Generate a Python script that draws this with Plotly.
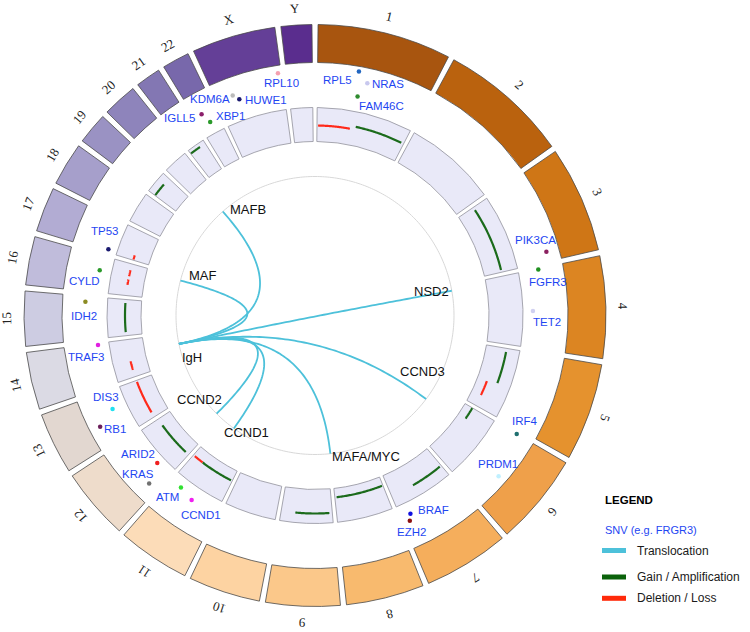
import numpy as np
import plotly.graph_objects as go

# ---------------- data ----------------
CHROMS = [str(i) for i in range(1, 23)] + ["X", "Y"]
CHROM_LEN_MB = [248.96, 242.19, 198.30, 190.21, 181.54, 170.81, 159.35, 145.14,
                138.39, 133.80, 135.09, 133.28, 114.36, 107.04, 101.99, 90.34,
                83.26, 80.37, 58.62, 64.44, 46.71, 50.82, 156.04, 57.23]
CHROM_COLORS = ["#A8550F", "#BA620E", "#CF7616", "#DC8522", "#E5922E", "#EFA04A",
                "#F5AE5C", "#F8BA6E", "#FBC88A", "#FDD3A2", "#FCDCB8", "#EEDCCB",
                "#E2D7D0", "#DBDAE4", "#CDCCE2", "#C0BCDB", "#B2ACD3", "#A69FCB",
                "#9A92C3", "#8E84BB", "#8377B3", "#7868AB", "#643F97", "#5A2D8E"]

# copy-number segments (chromosome, start Mb, end Mb, type)
CNV_CHROM = ["1", "1", "3", "5", "5", "6", "7", "8", "9", "11", "11", "12", "13",
             "14", "15", "16", "16", "17", "19", "21"]
CNV_START = [3, 108, 9, 10, 104, 1, 5, 3, 8, 4, 101, 11, 15, 20, 10, 30, 55, 2, 1, 1]
CNV_END = [93, 242, 192, 99, 148, 37, 94, 140, 100, 101, 130, 112, 110, 45, 92, 45, 72, 14, 38, 30]
CNV_TYPE = ["loss", "gain", "gain", "gain", "loss", "gain", "gain", "gain", "gain", "gain",
            "loss", "gain", "loss", "loss", "gain", "loss", "loss", "loss", "gain", "gain"]

# SNVs
SNV_GENE = ["RPL5", "NRAS", "FAM46C", "PIK3CA", "FGFR3", "TET2", "IRF4", "PRDM1",
            "BRAF", "EZH2", "CCND1", "ATM", "KRAS", "ARID2", "RB1", "DIS3", "TRAF3",
            "IDH2", "CYLD", "TP53", "IGLL5", "XBP1", "KDM6A", "HUWE1", "RPL10"]
SNV_CHROM = ["1", "1", "1", "3", "4", "4", "6", "6", "7", "7", "11", "11", "12", "12",
             "13", "13", "14", "15", "16", "17", "22", "22", "X", "X", "X"]
SNV_POS_MB = [89.5, 112.8, 97.0, 176.5, 1.8, 99.4, 0.4, 100.6, 134.0, 142.4, 67.0,
              106.1, 22.3, 43.3, 45.2, 69.5, 102.9, 88.6, 54.6, 8.2, 17.9, 26.8,
              38.9, 50.1, 148.9]
SNV_COLOR = ["#2166C0", "#C8C8EE", "#2E8B2E", "#8B2060", "#209020", "#D0D0F0",
             "#207070", "#C0F0FF", "#1010E0", "#8B1010", "#F020F0", "#30E030",
             "#707070", "#F02020", "#6B1F5B", "#20E0F0", "#E020E0", "#8B8B22",
             "#2A9A2A", "#1A1A70", "#8B1F6B", "#2A9A2A", "#BBBBBB", "#1A1A6E", "#F5A0B0"]

# translocations with IgH
IGH_CHROM, IGH_POS_MB = "14", 65.0
TRANS_PARTNER = ["MAFB", "MAF", "NSD2", "CCND3", "MAFA/MYC", "CCND1", "CCND2"]
TRANS_CHROM = ["20", "16", "4", "6", "8", "11", "12"]
TRANS_POS_MB = [38.0, 79.6, 15.0, 61.0, 144.0, 85.0, 26.0]

# ---------------- layout constants (pixels) ----------------
W, H = 750, 632
CX, CY = 315.0, 315.5
R_AX = 300.0
GAP = 1.2
R_OUT0, R_OUT1 = 253, 291
R_IN0, R_IN1 = 174, 208
R_CHORD = 139
R_LABEL = 308

# SNV dot radius and text offsets (layout)
SNV_R = {"RPL5": 248, "NRAS": 238, "FAM46C": 223, "PIK3CA": 240, "FGFR3": 228, "TET2": 218,
         "IRF4": 234, "PRDM1": 244, "BRAF": 220, "EZH2": 226, "CCND1": 222, "ATM": 218,
         "KRAS": 236, "ARID2": 216, "RB1": 242, "DIS3": 223, "TRAF3": 219, "IDH2": 230,
         "CYLD": 220, "TP53": 217, "IGLL5": 231, "XBP1": 220, "KDM6A": 235, "HUWE1": 229,
         "RPL10": 245}
SNV_OFF = {"RPL5": (-21, 9), "NRAS": (21, 1), "FAM46C": (24, 9), "PIK3CA": (-11, -12),
           "FGFR3": (10, 13), "TET2": (14, 11), "IRF4": (8, -13), "PRDM1": (-1, -12),
           "BRAF": (23, -4), "EZH2": (2, 11), "CCND1": (9, 15), "ATM": (-13, 10),
           "KRAS": (-11, -9), "ARID2": (-19, -9), "RB1": (15, 2), "DIS3": (-7, -12),
           "TRAF3": (-12, 12), "IDH2": (-1, 14), "CYLD": (-15, 11), "TP53": (-3, -18),
           "IGLL5": (-22, 4), "XBP1": (20, -6), "KDM6A": (-23, 4), "HUWE1": (27, 1),
           "RPL10": (4, 10)}
CNV_R = [190, 193, 191.5, 194.5, 184, 182.5, 196, 183, 198, 185, 185, 188, 190,
         190, 190, 190, 190, 190, 200, 204]
TRANS_LABEL_OFF = {"MAFB": (25, -2), "MAF": (23, -5), "NSD2": (-20, 1), "CCND3": (-4, -28),
                   "MAFA/MYC": (36, 3), "CCND1": (13, 4), "CCND2": (-17, -14)}
IGH_LABEL_OFF = (13, 14)

GENE_BLUE = "#1E46F2"
GAIN_COL = "#1B6B1B"
LOSS_COL = "#FF2A1A"
TRANS_COL = "#4DC1DA"
SANS = "Liberation Sans"

# ---------------- genome -> angle ----------------
lens = np.array(CHROM_LEN_MB)
scale = (360.0 - GAP * len(CHROMS)) / lens.sum()
cum = np.concatenate([[0], np.cumsum(lens)[:-1]])
starts = GAP / 2 + np.arange(len(CHROMS)) * GAP + cum * scale
sizes = lens * scale
idx = {c: i for i, c in enumerate(CHROMS)}


def ang(ch, mb):
    return starts[idx[ch]] + mb * scale


def xy(theta, r):
    t = np.radians(theta)
    return CX + r * np.sin(t), CY - r * np.cos(t)


fig = go.Figure()

# outer chromosome ring
fig.add_trace(go.Barpolar(r=[R_OUT1 - R_OUT0] * len(CHROMS), base=[R_OUT0] * len(CHROMS),
                          theta=starts + sizes / 2, width=sizes,
                          marker=dict(color=CHROM_COLORS, line=dict(color="#4a4a4a", width=0.8)),
                          hoverinfo="skip", showlegend=False))
# inner CNV track ring
fig.add_trace(go.Barpolar(r=[R_IN1 - R_IN0] * len(CHROMS), base=[R_IN0] * len(CHROMS),
                          theta=starts + sizes / 2, width=sizes,
                          marker=dict(color="#E9E9F8", line=dict(color="#9C9CA6", width=0.9)),
                          hoverinfo="skip", showlegend=False))

# CNV arcs
for ch, s, e, tp, rr in zip(CNV_CHROM, CNV_START, CNV_END, CNV_TYPE, CNV_R):
    th = np.linspace(ang(ch, s), ang(ch, e), 40)
    fig.add_trace(go.Scatterpolar(r=[rr] * len(th), theta=th, mode="lines",
                                  line=dict(color=GAIN_COL if tp == "gain" else LOSS_COL, width=2.2),
                                  hoverinfo="skip", showlegend=False))

# chord circle
tt = np.linspace(0, 360, 361)
fig.add_trace(go.Scatterpolar(r=[R_CHORD] * len(tt), theta=tt, mode="lines",
                              line=dict(color="#D8D8D8", width=1), hoverinfo="skip", showlegend=False))

# chords (quadratic Bezier with control at the centre)
a0 = np.radians(ang(IGH_CHROM, IGH_POS_MB))
p0 = np.array([R_CHORD * np.sin(a0), R_CHORD * np.cos(a0)])
t = np.linspace(0, 1, 80)
for ch, mb in zip(TRANS_CHROM, TRANS_POS_MB):
    a1 = np.radians(ang(ch, mb))
    p2 = np.array([R_CHORD * np.sin(a1), R_CHORD * np.cos(a1)])
    bx = (1 - t) ** 2 * p0[0] + t ** 2 * p2[0]
    by = (1 - t) ** 2 * p0[1] + t ** 2 * p2[1]
    fig.add_trace(go.Scatterpolar(r=np.hypot(bx, by), theta=np.degrees(np.arctan2(bx, by)),
                                  mode="lines", line=dict(color=TRANS_COL, width=1.8),
                                  hoverinfo="skip", showlegend=False))

# SNV dots
snv_theta = [ang(c, p) for c, p in zip(SNV_CHROM, SNV_POS_MB)]
fig.add_trace(go.Scatterpolar(r=[SNV_R[g] for g in SNV_GENE], theta=snv_theta, mode="markers",
                              marker=dict(color=SNV_COLOR, size=4.5),
                              hoverinfo="text", text=SNV_GENE, showlegend=False))

ann = []
# chromosome labels
for i, c in enumerate(CHROMS):
    th = starts[i] + sizes[i] / 2
    x, y = xy(th, R_LABEL)
    ta = ((th + 180) % 360) - 180
    ann.append(dict(x=x, y=y, text=c, showarrow=False, textangle=ta,
                    font=dict(family="Liberation Serif", size=13, color="#222222")))
# SNV labels
for g, th in zip(SNV_GENE, snv_theta):
    x, y = xy(th, SNV_R[g])
    dx, dy = SNV_OFF[g]
    ann.append(dict(x=x + dx, y=y + dy, text=g, showarrow=False,
                    font=dict(family=SANS, size=11.5, color=GENE_BLUE)))
# translocation labels
x0, y0 = xy(np.degrees(a0), R_CHORD)
ann.append(dict(x=x0 + IGH_LABEL_OFF[0], y=y0 + IGH_LABEL_OFF[1], text="IgH", showarrow=False,
                font=dict(family=SANS, size=13, color="#111111")))
for p, ch, mb in zip(TRANS_PARTNER, TRANS_CHROM, TRANS_POS_MB):
    x, y = xy(ang(ch, mb), R_CHORD)
    dx, dy = TRANS_LABEL_OFF[p]
    ann.append(dict(x=x + dx, y=y + dy, text=p, showarrow=False,
                    font=dict(family=SANS, size=13, color="#111111")))

# legend
LX = 603
ann.append(dict(x=LX, y=499.5, text="<b>LEGEND</b>", showarrow=False, xanchor="left",
                font=dict(family=SANS, size=11.5, color="#000000")))
ann.append(dict(x=LX, y=529.5, text="SNV (e.g. FRGR3)", showarrow=False, xanchor="left",
                font=dict(family=SANS, size=11, color=GENE_BLUE)))
shapes = []
for yy, col, lab in [(550.5, TRANS_COL, "Translocation"), (577, "#0B620B", "Gain / Amplification"),
                     (598.3, "#FF2A0A", "Deletion / Loss")]:
    shapes.append(dict(type="line", xref="x", yref="y", x0=602, x1=626,
                       y0=yy, y1=yy, line=dict(color=col, width=5)))
    ann.append(dict(x=635, y=yy, text=lab, showarrow=False, xanchor="left",
                    font=dict(family=SANS, size=12, color="#1a1a1a")))

fig.update_layout(
    width=W, height=H, margin=dict(l=0, r=0, t=0, b=0),
    paper_bgcolor="white", plot_bgcolor="rgba(0,0,0,0)",
    polar=dict(domain=dict(x=[(CX - R_AX) / W, (CX + R_AX) / W],
                           y=[(H - CY - R_AX) / H, (H - CY + R_AX) / H]),
               bgcolor="rgba(0,0,0,0)", bargap=0,
               radialaxis=dict(range=[0, R_AX], visible=False),
               angularaxis=dict(rotation=90, direction="clockwise", visible=False)),
    xaxis=dict(range=[0, W], visible=False, fixedrange=True),
    yaxis=dict(range=[H, 0], visible=False, fixedrange=True),
    annotations=ann, shapes=shapes, showlegend=False,
)

fig.write_html("out.html", config={"displayModeBar": False},
               post_script="document.body.style.margin='0px';")
